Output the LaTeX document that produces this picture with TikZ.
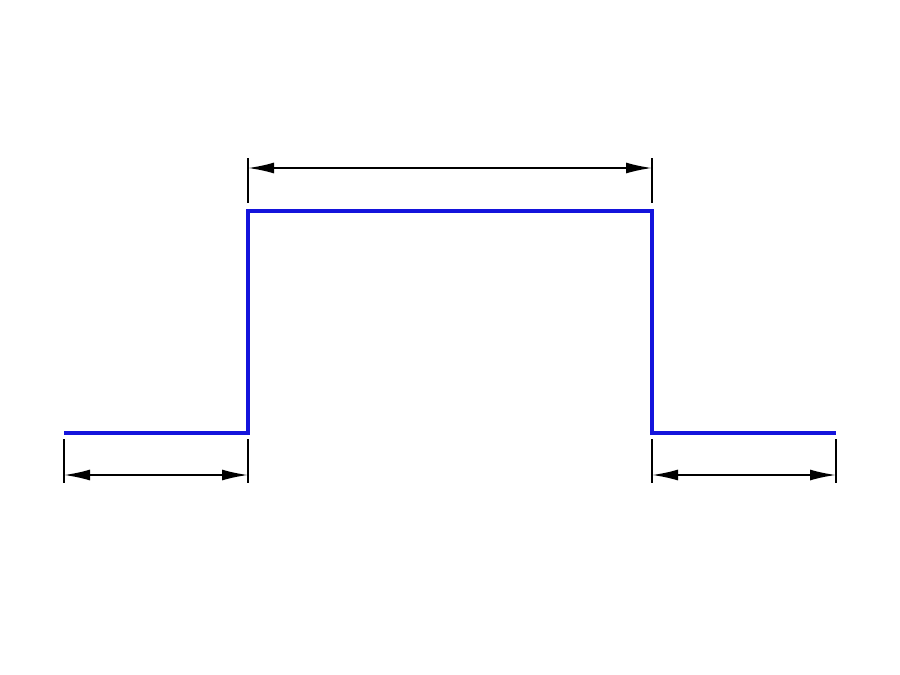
\documentclass[tikz,border=0pt]{standalone}
\usetikzlibrary{arrows.meta}
\begin{document}
\begin{tikzpicture}[x=1pt,y=-1pt,
  signal/.style={draw={rgb,255:red,20;green,20;blue,220},line width=3.3pt},
  extline/.style={draw=black,line width=2pt},
  dimline/.style={draw=black,line width=1.8pt,{Latex[length=26pt,width=11pt]}-{Latex[length=26pt,width=11pt]}}]
\useasboundingbox[fill=white] (0,0) rectangle (900,675);
% signal
\coordinate (s0) at (64,433);
\coordinate (s1) at (248,433);
\coordinate (s2) at (248,211);
\coordinate (s3) at (652,211);
\coordinate (s4) at (652,433);
\coordinate (s5) at (836,433);
\draw[signal] (s0) -- (s1) -- (s2) -- (s3) -- (s4) -- (s5);
% top dimension
\coordinate (ta1) at (248,158);
\coordinate (ta2) at (248,203);
\coordinate (tb1) at (652,158);
\coordinate (tb2) at (652,203);
\draw[extline] (ta1) -- (ta2);
\draw[extline] (tb1) -- (tb2);
\coordinate (td1) at (248,168);
\coordinate (td2) at (652,168);
\draw[dimline] (td1) -- (td2);
% bottom left dimension
\coordinate (la1) at (64,439);
\coordinate (la2) at (64,483);
\coordinate (lb1) at (248,439);
\coordinate (lb2) at (248,483);
\draw[extline] (la1) -- (la2);
\draw[extline] (lb1) -- (lb2);
\coordinate (ld1) at (64,475);
\coordinate (ld2) at (248,475);
\draw[dimline] (ld1) -- (ld2);
% bottom right dimension
\coordinate (ra1) at (652,439);
\coordinate (ra2) at (652,483);
\coordinate (rb1) at (836,439);
\coordinate (rb2) at (836,483);
\draw[extline] (ra1) -- (ra2);
\draw[extline] (rb1) -- (rb2);
\coordinate (rd1) at (652,475);
\coordinate (rd2) at (836,475);
\draw[dimline] (rd1) -- (rd2);
\end{tikzpicture}
\end{document}
